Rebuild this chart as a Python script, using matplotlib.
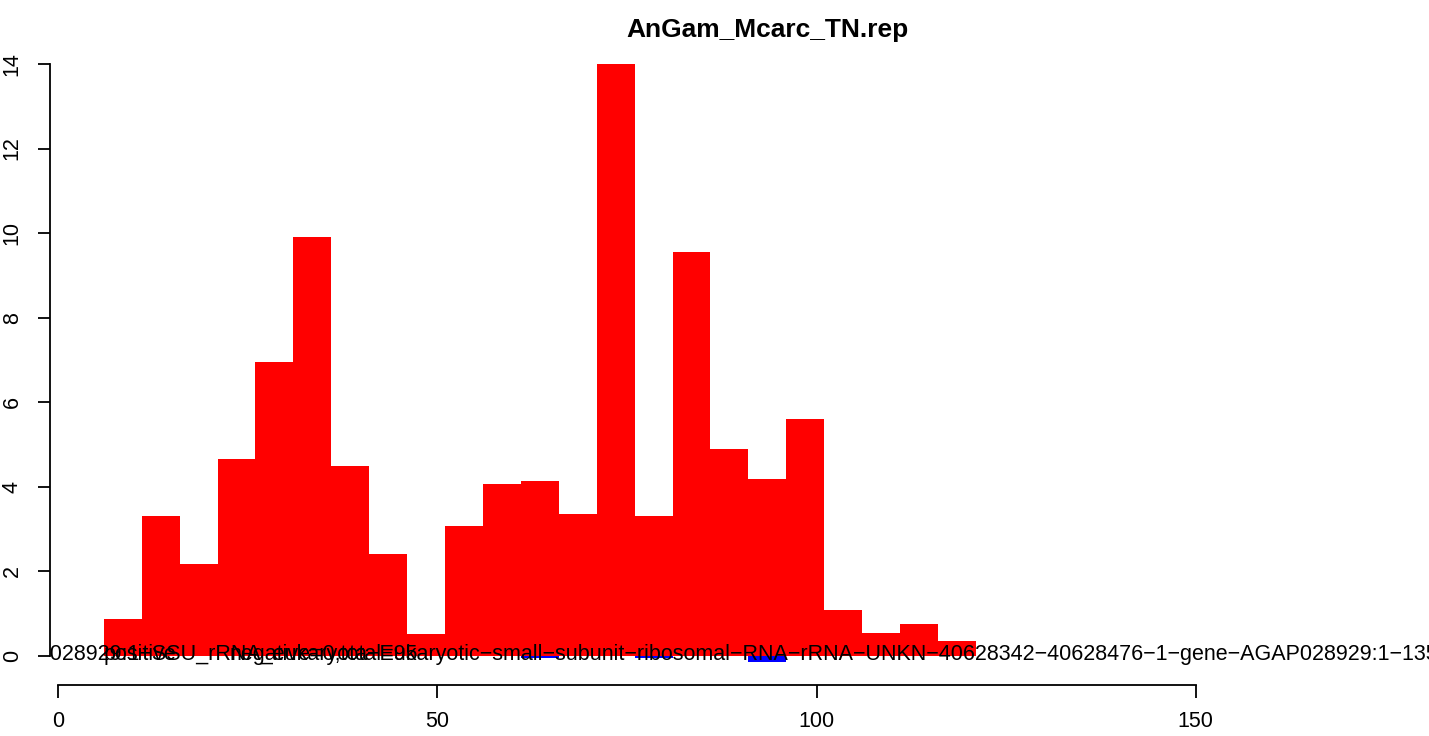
import matplotlib
matplotlib.use("Agg")
import matplotlib.pyplot as plt

plt.rcParams['font.family'] = ['Liberation Sans', 'DejaVu Sans']

# Data: 5-unit bins starting at 6
bin_left = [6, 11, 16, 21, 26, 31, 36, 41, 46, 51, 56, 61, 66, 71, 76, 81, 86, 91, 96, 101, 106, 111, 116]
positive = [0.87, 3.31, 2.17, 4.66, 6.95, 9.9, 4.49, 2.42, 0.52, 3.07, 4.07, 4.14, 3.36, 14.0, 3.31, 9.56,
            4.89, 4.18, 5.6, 1.09, 0.54, 0.76, 0.35]
neg_left = [61, 76, 91]
negative = [-0.05, -0.05, -0.15]

title = "AnGam_Mcarc_TN.rep"
label_long = ("AGAP028929:1\u2212SSU_rRNA_eukaryota\u2212Eukaryotic\u2212small\u2212subunit\u2212ribosomal\u2212RNA"
              "\u2212rRNA\u2212UNKN\u221240628342\u221240628476\u22121\u2212gene\u2212AGAP028929:1\u2212135")
label_pos = "positive"
label_neg = "negative=0,total=95"

W, H = 1429, 736
fig = plt.figure(figsize=(W / 100, H / 100), dpi=100)

# axes placed in pixel terms to mimic R's plot region
left_px, right_px, bottom_px, top_px = 50, 1429, 685, 40
ax = fig.add_axes([left_px / W, 1 - bottom_px / H, (right_px - left_px) / W, (bottom_px - top_px) / H])

ax.bar(bin_left, positive, width=5, align='edge', color='#FF0000', linewidth=0)
ax.bar(neg_left, negative, width=5, align='edge', color='#0000FF', linewidth=0)

ax.set_xlim(-1.095, 180.76)
ax.set_ylim(-0.686, 14.567)

fs = 15.5
txt_y = -0.095
ax.text(-8.87, txt_y, label_long, fontsize=fs, ha='left', va='baseline', clip_on=True)
ax.text(6, txt_y, label_pos, fontsize=fs, ha='left', va='baseline', clip_on=True)
ax.text(22.6, txt_y, label_neg, fontsize=fs, ha='left', va='baseline', clip_on=True)

# R-style axes
for s in ['top', 'right']:
    ax.spines[s].set_visible(False)
ax.spines['bottom'].set_bounds(0, 150)
ax.spines['left'].set_bounds(0, 14)
for s in ['bottom', 'left']:
    ax.spines[s].set_linewidth(1.3)

ax.set_xticks([0, 50, 100, 150])
ax.set_yticks(range(0, 15, 2))
ax.tick_params(axis='x', direction='out', length=9.4, width=1.3, pad=9, labelsize=fs)
ax.tick_params(axis='y', direction='out', length=8.6, width=1.3, pad=11, labelsize=fs)
for lab in ax.get_yticklabels():
    lab.set_rotation(90)
    lab.set_va('center')

fig.text(767.5 / W, 1 - 37 / H, title, ha='center', va='baseline', fontsize=19, fontweight='bold')

fig.savefig("out.png", dpi=100)
